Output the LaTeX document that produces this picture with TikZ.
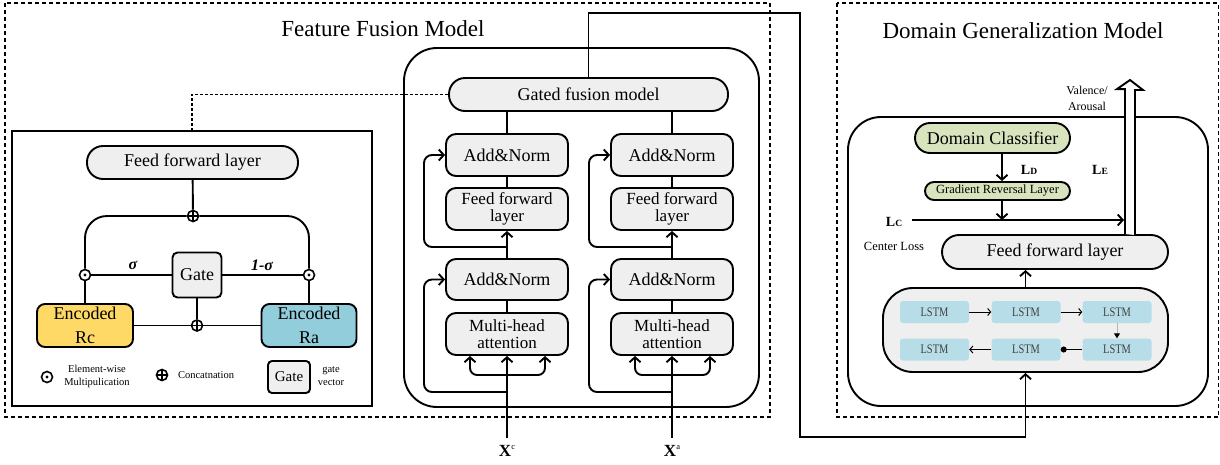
\documentclass[tikz,border=0pt]{standalone}
\usepackage{fontspec}
\setmainfont{Liberation Serif}
\usepackage{xcolor}
\usepackage{graphicx}
\usepackage{tikz}
\usetikzlibrary{arrows.meta}
\definecolor{boxgray}{RGB}{239,239,239}
\definecolor{rcyellow}{RGB}{255,217,102}
\definecolor{rablue}{RGB}{146,205,220}
\definecolor{dcgreen}{RGB}{215,228,189}
\definecolor{lstmblue}{RGB}{183,222,232}
\definecolor{lstmtext}{RGB}{64,64,64}
\newcommand{\fsz}[2]{\fontsize{#1}{#2}\selectfont}
\tikzstyle{blk} = [rectangle, draw=black, line width=1.9pt, fill=boxgray, inner sep=0pt, align=center, font=\fsz{18}{18}]
\tikzstyle{two} = [font=\fsz{17}{16.5}]
\tikzstyle{wire} = [line width=1.9pt]
\tikzstyle{arrow} = [line width=1.9pt, -{Straight Barb[length=5pt,width=11pt]}]
\tikzstyle{thinarrow} = [line width=1pt, -{Straight Barb[length=3pt,width=7pt]}]
\tikzstyle{dashbox} = [draw=black, line width=1.2pt, dash pattern=on 4pt off 3pt]
\tikzstyle{ttl} = [font=\fsz{23}{23}]
\tikzstyle{note} = [align=center, inner sep=0pt, font=\fsz{10.5}{13}]
\tikzstyle{loss} = [inner sep=0pt, font=\fsz{14}{14}\bfseries]
\tikzstyle{oplus} = [circle, draw=black, line width=1.6pt, fill=white, minimum size=11pt, inner sep=0pt,
    path picture={\draw[line width=1.4pt] (path picture bounding box.north) -- (path picture bounding box.south)
        (path picture bounding box.west) -- (path picture bounding box.east);}]
\tikzstyle{odot} = [circle, draw=black, line width=1.6pt, fill=white, minimum size=11pt, inner sep=0pt,
    path picture={\fill[black] (path picture bounding box.center) circle (1.7pt);}]
\tikzstyle{lstmcell} = [rectangle, fill=lstmblue, rounded corners=3pt, minimum width=69pt, minimum height=22pt,
    inner sep=0pt, text=lstmtext, font=\fsz{13}{13}]

\begin{document}
\begin{tikzpicture}[x=1pt, y=-1pt]
    \useasboundingbox (0,0) rectangle (1220,464);

    \draw[dashbox] (5,3) rectangle (770,417);
    \draw[dashbox] (837,3) rectangle (1218.5,417);
    \node[ttl] (fftitle) at (383,29) {Feature Fusion Model};
    \node[ttl] (dgtitle) at (1023,31) {Domain Generalization Model};

    % gated fusion detail
    \node[draw, line width=1.9pt, minimum width=360pt, minimum height=275pt, inner sep=0pt] (gatebox) at (192,268.5) {};
    \node[blk, rounded corners=16pt, minimum width=211pt, minimum height=33pt] (ffl) at (192.5,162.5) {Feed forward layer};
    \node[oplus] (plustop) at (193,216) {};
    \node[odot] (odotl) at (85,275) {};
    \node[odot] (odotr) at (309,275) {};
    \node[blk, rounded corners=5pt, minimum width=49pt, minimum height=45pt] (gate) at (197,275) {Gate};
    \node[blk, fill=rcyellow, rounded corners=8pt, minimum width=96pt, minimum height=43pt, font=\fsz{18}{24}] (rc) at (85,325.5) {Encoded\\Rc};
    \node[blk, fill=rablue, rounded corners=8pt, minimum width=95pt, minimum height=43pt, font=\fsz{18}{24}] (ra) at (309,325.5) {Encoded\\Ra};
    \node[oplus] (plusbot) at (197,325.5) {};
    \draw[wire] (ffl) -- (plustop);
    \draw[wire, rounded corners=22pt] (odotl) |- (plustop) -| (odotr);
    \draw[wire] (odotl) -- (gate) -- (odotr);
    \draw[wire] (odotl) -- (rc);
    \draw[wire] (odotr) -- (ra);
    \draw[wire] (rc) -- (plusbot) -- (ra);
    \draw[wire] (gate) -- (plusbot);
    \node[font=\fsz{16}{16}\bfseries\itshape] (sig) at (133,265) {σ};
    \node[font=\fsz{16}{16}\bfseries\itshape] (sigm) at (262,265) {1-σ};
    \node[odot] (lgodot) at (47,377) {};
    \node[note] (lgodottxt) at (97,376) {Element-wise\\Multipulication};
    \node[oplus] (lgoplus) at (162,375) {};
    \node[note] (lgoplustxt) at (206,375) {Concatnation};
    \node[blk, rounded corners=4pt, minimum width=42pt, minimum height=32pt, font=\fsz{15}{15}] (lggate) at (289,377) {Gate};
    \node[note] (lggatetxt) at (331,376) {gate\\vector};

    % encoders
    \node[draw, line width=1.9pt, rounded corners=33pt, minimum width=355pt, minimum height=359pt, inner sep=0pt] (encbox) at (581.5,227.5) {};
    \node[blk, rounded corners=16pt, minimum width=279pt, minimum height=33pt] (gated) at (588.5,94.5) {Gated fusion model};
    \draw[dashbox, line width=1.5pt, dash pattern=on 3pt off 2pt] (gated.west) -| (gatebox.north);
    \foreach \m/\x in {c/507,a/672}{
        \node[blk, rounded corners=10pt, minimum width=122pt, minimum height=42pt] (an1\m) at (\x,155) {Add\&Norm};
        \node[blk, two, rounded corners=10pt, minimum width=122pt, minimum height=42pt] (ff\m) at (\x,209) {Feed forward\\layer};
        \node[blk, rounded corners=10pt, minimum width=122pt, minimum height=41pt] (an2\m) at (\x,279.5) {Add\&Norm};
        \node[blk, two, rounded corners=10pt, minimum width=122pt, minimum height=42pt] (mh\m) at (\x,334) {Multi-head\\attention};
        \node[anchor=north, inner sep=0pt, font=\fsz{17}{17}] (x\m) at (\x,445) {\textbf{X}\smash{\raisebox{7pt}{\fsz{8.5}{8.5}\m}}};
        \coordinate (sp1\m) at (\x,247);
        \coordinate (sp2\m) at (\x,392);
        \coordinate (sp3\m) at (\x,375);
        \draw[wire] (an1\m.north |- gated.south) -- (an1\m);
        \draw[wire] (an1\m) -- (ff\m);
        \draw[arrow] (an2\m) -- (ff\m);
        \draw[wire] (an2\m) -- (mh\m);
        \draw[arrow, rounded corners=8pt] (sp1\m) -- ++(-83,0) |- (an1\m.west);
        \draw[arrow, rounded corners=8pt] (sp2\m) -- ++(-83,0) |- (an2\m.west);
        \draw[arrow, rounded corners=7pt] (sp3\m) -| ([xshift=-37pt]mh\m.south);
        \draw[arrow, rounded corners=7pt] (sp3\m) -| ([xshift=38pt]mh\m.south);
        \draw[arrow] ([yshift=7pt]x\m.north) -- (mh\m);
    }

    % domain generalization
    \node[draw, line width=1.9pt, rounded corners=33pt, minimum width=360pt, minimum height=289pt, inner sep=0pt] (dgbox) at (1028,261.5) {};
    \node[blk, fill=dcgreen, rounded corners=15pt, minimum width=155pt, minimum height=30pt] (dc) at (992.5,138) {Domain Classifier};
    \node[blk, fill=dcgreen, rounded corners=9pt, minimum width=145pt, minimum height=18pt, font=\fsz{12.5}{12.5}] (grl) at (997.5,191) {Gradient Reversal Layer};
    \node[blk, rounded corners=17pt, minimum width=226pt, minimum height=34pt] (dff) at (1055,252) {Feed forward layer};
    \node[blk, rounded corners=30pt, minimum width=285pt, minimum height=84pt] (lstmbox) at (1025.5,330) {};
    \foreach \n/\x/\y in {1/934.5/312, 2/1026/312, 3/1117/312, 4/934.5/349.5, 5/1026/349.5, 6/1117/349.5}
        \node[lstmcell] (l\n) at (\x,\y) {\scalebox{0.8}[1]{LSTM}};
    \draw[thinarrow] (l1) -- (l2);
    \draw[thinarrow] (l2) -- (l3);
    \draw[line width=1pt, gray!60, -{Triangle[length=5pt,width=6pt,color=black]}] (l3) -- (l6);
    \draw[line width=1pt, -{Circle[length=6pt]}] (l6) -- (l5);
    \draw[thinarrow] (l5) -- (l4);
    \draw[arrow] (lstmbox.north) -- (lstmbox.north |- dff.south);
    \coordinate (up) at (800,13);
    \coordinate (dn) at (800,437);
    \draw[arrow] (gated.north) |- (up) -- (dn) -| (lstmbox.south);
    \draw[arrow] ([xshift=9.5pt]dc.south) -- ([xshift=4.5pt]grl.north);
    \coordinate (lcs) at (912,220);
    \coordinate (lce) at (1124,220);
    \draw[arrow] (lcs) -- (lce);
    \draw[arrow] ([xshift=4.5pt]grl.south) -- ([xshift=4.5pt]grl.south |- lcs);
    \coordinate (vtip) at (1130,80);
    \draw[line width=1.9pt, fill=white] (vtip |- dff.north) ++(-5,0) -- ++(0,-145) -- ++(-8,0) -- (vtip) -- ++(13,10) -- ++(-8,0) -- ++(0,145);
    \node[loss] (ld) at (1029,170) {L\fsz{9.5}{9.5}D};
    \node[loss] (le) at (1100,170) {L\fsz{9.5}{9.5}E};
    \node[loss] (lc) at (894,222) {L\fsz{9.5}{9.5}C};
    \node[note, font=\fsz{12.5}{13}] (cl) at (894,246) {Center Loss};
    \node[note, font=\fsz{12}{16}] (va) at (1087,98) {Valence/\\Arousal};
\end{tikzpicture}
\end{document}
